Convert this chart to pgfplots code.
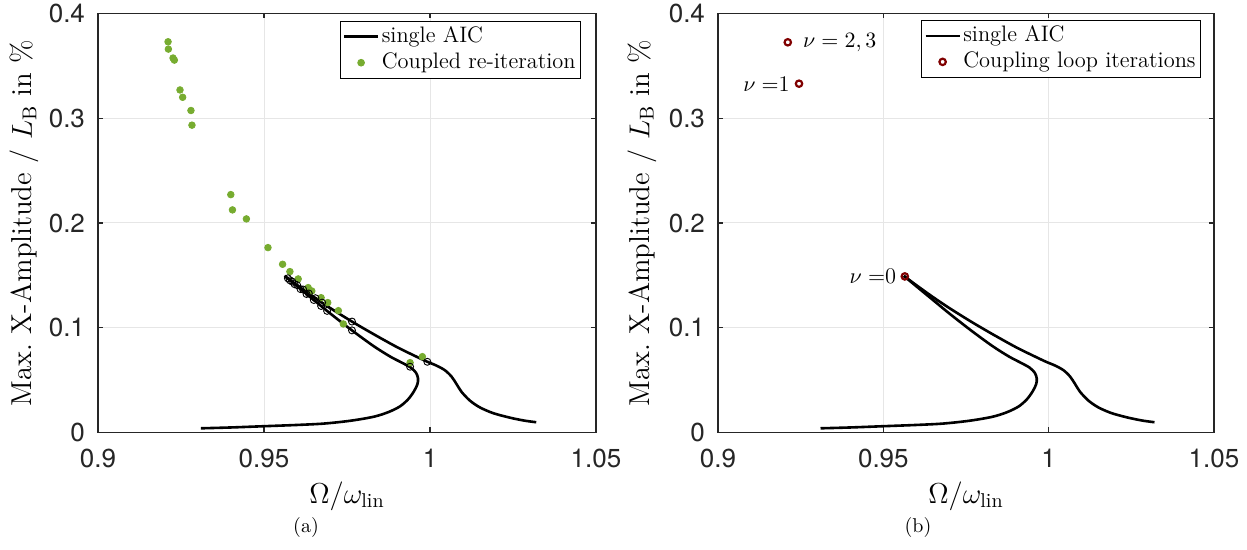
\documentclass[border=0pt]{standalone}
\usepackage{fontspec}
\usepackage{pgfplots}
\usepackage{pgfplotstable}
\pgfplotsset{compat=1.18}
\newfontfamily\heros{TeX Gyre Heros}

\definecolor{aicgreen}{RGB}{119,172,48}
\definecolor{loopred}{RGB}{128,0,0}
\definecolor{axisgray}{RGB}{38,38,38}
\definecolor{gridgray}{RGB}{230,230,230}

% single AIC response: lower branch up to the turning point
\pgfplotstableread{
x y
0.9310 0.0040
0.9400 0.0048
0.9500 0.0060
0.9600 0.0072
0.9680 0.0085
0.9760 0.0112
0.9830 0.0150
0.9875 0.0195
0.9910 0.0250
0.9935 0.0320
0.9952 0.0395
0.9962 0.0460
0.9964 0.0515
0.9958 0.0570
0.9942 0.0620
0.9915 0.0667
0.9880 0.0725
0.9830 0.0825
0.9765 0.0975
0.9700 0.1135
0.9650 0.1265
0.9600 0.1395
0.9562 0.1495
}\aicinner

% single AIC response: upper branch from the turning point
\pgfplotstableread{
x y
0.9562 0.1495
0.9600 0.1406
0.9650 0.1293
0.9700 0.1187
0.9765 0.1059
0.9830 0.0939
0.9900 0.0816
0.9950 0.0738
0.9990 0.0678
1.0020 0.0638
1.0045 0.0594
1.0065 0.0533
1.0080 0.0462
1.0095 0.0388
1.0120 0.0305
1.0150 0.0240
1.0190 0.0185
1.0240 0.0142
1.0285 0.0113
1.0320 0.0098
}\aicupper

% coupled re-iteration results
\pgfplotstableread{
x y
0.9211 0.3730
0.9212 0.3660
0.9226 0.3575
0.9230 0.3555
0.9247 0.3270
0.9255 0.3200
0.9280 0.3074
0.9283 0.2934
0.9400 0.2271
0.9405 0.2125
0.9447 0.2039
0.9512 0.1765
0.9556 0.1606
0.9578 0.1536
0.9603 0.1466
0.9633 0.1383
0.9644 0.1351
0.9672 0.1287
0.9692 0.1240
0.9724 0.1163
0.9739 0.1036
0.9977 0.0724
0.9940 0.0667
}\coupled

% operating points picked on the AIC curve
\pgfplotstableread{
x y
0.9572 0.1472
0.9585 0.1441
0.9600 0.1406
0.9618 0.1365
0.9635 0.1327
0.9655 0.1282
0.9675 0.1240
0.9765 0.1059
0.9992 0.0675
0.9578 0.1453
0.9592 0.1416
0.9610 0.1369
0.9628 0.1322
0.9650 0.1265
0.9672 0.1208
0.9690 0.1161
0.9765 0.0975
0.9940 0.0628
}\picked

% coupling loop iterations
\pgfplotstableread{
x y
0.9565 0.1490
0.9245 0.3330
0.9211 0.3725
}\loopit

\pgfplotsset{
  frfaxis/.style={
    scale only axis, width=249pt, height=209.5pt,
    xmin=0.9, xmax=1.05, ymin=0, ymax=0.4,
    xtick={0.9,0.95,1,1.05}, ytick={0,0.1,0.2,0.3,0.4},
    grid=major, major grid style={gridgray, line width=0.5pt},
    axis line style={axisgray, line width=0.6pt},
    tick style={axisgray, line width=0.6pt},
    tick align=inside, major tick length=2.5pt,
    tick label style={font=\heros\fontsize{13}{15}\selectfont, text=axisgray},
    /pgf/number format/assume math mode=true,
    xticklabel style={yshift=-5pt},
    yticklabel style={xshift=-3pt},
    label style={font=\fontsize{14.4}{17}\selectfont},
    xlabel={$\Omega/\omega_{\mathrm{lin}}$},
    ylabel={Max.\ X-Amplitude / $L_{\mathrm{B}}$ in \%},
    xlabel style={at={(axis description cs:0.5,-0.152)}, anchor=center},
    legend cell align=left,
    legend style={anchor=north east, draw=black, line width=0.5pt, fill=white,
      inner sep=1.3pt, row sep=0pt,
      font=\fontsize{11.2}{13}\selectfont,
      nodes={inner sep=1.2pt, text height=8pt, text depth=2.6pt}},
  },
  curve/.style={black, line width=1.3pt, smooth, tension=0.5,
    legend image code/.code={\draw[##1] (0pt,0pt) -- (17pt,0pt);}},
  dots/.style={only marks,
    legend image code/.code={\draw[##1] plot coordinates {(8.5pt,0pt)};}},
}

\begin{document}
\begin{tikzpicture}
\useasboundingbox (0,0) rectangle (623.5pt,275pt);

% (a) single AIC against the coupled re-iteration
\begin{axis}[frfaxis, at={(49pt,58.75pt)},
  ylabel style={at={(axis description cs:-0.147,0.5)}, anchor=center},
  legend style={at={(axis description cs:0.970,0.983)}}]
  \addplot[curve] table[x=x,y=y] {\aicinner};
  \addlegendentry{single AIC}
  \addplot[dots, mark=*, mark size=1.65pt, draw=aicgreen, fill=aicgreen] table[x=x,y=y] {\coupled};
  \addlegendentry{Coupled re-iteration}
  \addplot[curve, forget plot] table[x=x,y=y] {\aicupper};
  \addplot[only marks, forget plot, mark=o, mark size=1.75pt, black, line width=0.45pt] table[x=x,y=y] {\picked};
\end{axis}

% (b) single AIC with the coupling loop iterations
\begin{axis}[frfaxis, at={(359pt,58.75pt)}, width=248pt,
  ylabel style={at={(axis description cs:-0.153,0.5)}, anchor=center},
  legend style={at={(axis description cs:0.974,0.985)}}]
  \addplot[curve] table[x=x,y=y] {\aicinner};
  \addlegendentry{single AIC}
  \addplot[dots, mark=o, mark size=1.6pt, loopred, line width=1.1pt] table[x=x,y=y] {\loopit};
  \addlegendentry{Coupling loop iterations}
  \addplot[curve, forget plot] table[x=x,y=y] {\aicupper};
  \node[anchor=west, inner sep=0pt, xshift=7.5pt, font=\fontsize{11.2}{13}\selectfont] at (axis cs:0.9211,0.3725) {$\nu=2,3$};
  \node[anchor=east, inner sep=0pt, xshift=-4.5pt, font=\fontsize{11.2}{13}\selectfont] at (axis cs:0.9245,0.3330) {$\nu=$1};
  \node[anchor=east, inner sep=0pt, xshift=-4.2pt, font=\fontsize{11.2}{13}\selectfont] at (axis cs:0.9565,0.1490) {$\nu=$0};
\end{axis}

\node[font=\fontsize{10}{12}\selectfont] at (153pt,11pt) {(a)};
\node[font=\fontsize{10}{12}\selectfont] at (459pt,11pt) {(b)};
\end{tikzpicture}
\end{document}
